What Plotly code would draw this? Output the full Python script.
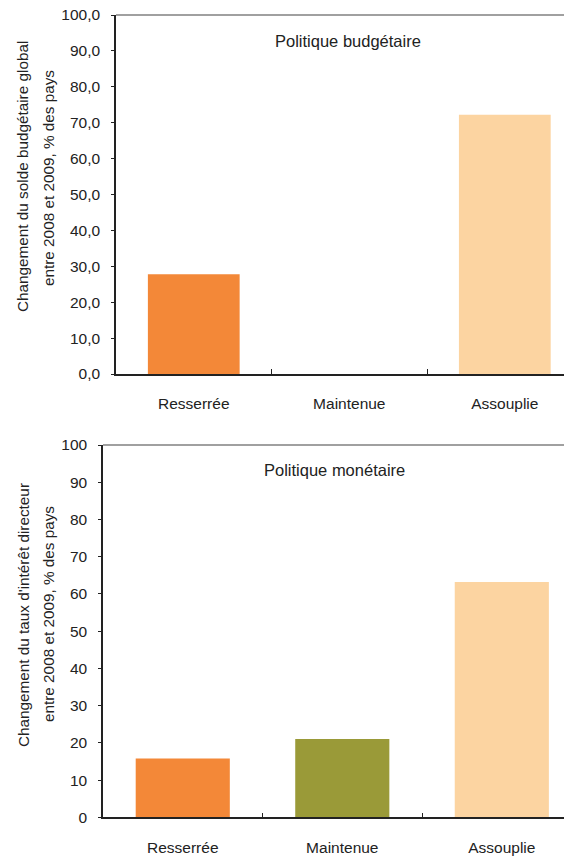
import plotly.graph_objects as go

categories = ["Resserrée", "Maintenue", "Assouplie"]
budget_values = [27.8, 0.0, 72.2]
monetary_values = [15.8, 21.0, 63.2]
bar_colors = ["#F38838", "#9A9A38", "#FCD4A1"]
budget_ticks = [0, 10, 20, 30, 40, 50, 60, 70, 80, 90, 100]
monetary_ticks = [0, 10, 20, 30, 40, 50, 60, 70, 80, 90, 100]

# page body has a default 8px margin; compensate so positions match the 572x856 window
OX, OY = 8, 8
W, H = 564, 848
FONT = "Liberation Sans, Arial, sans-serif"

def px_x(v):
    return (v - OX) / W

def px_y(v):
    return 1 - (v - OY) / H

fig = go.Figure()
fig.add_trace(go.Bar(x=categories, y=budget_values, marker=dict(color=bar_colors, line=dict(width=0)),
                     width=0.59, xaxis="x", yaxis="y", showlegend=False, hoverinfo="skip"))
fig.add_trace(go.Bar(x=categories, y=monetary_values, marker=dict(color=bar_colors, line=dict(width=0)),
                     width=0.59, xaxis="x2", yaxis="y2", showlegend=False, hoverinfo="skip"))

axis_common_x = dict(type="category", showgrid=False, zeroline=False, showline=True,
                     linecolor="#222222", linewidth=1.5, ticks="inside", tickson="boundaries",
                     ticklen=5, tickcolor="#222222", tickwidth=1,
                     tickfont=dict(family=FONT, size=15.5, color="#222222"),
                     ticklabelstandoff=15, fixedrange=True, automargin=False,
                     ticklabeloverflow="allow")
axis_common_y = dict(showgrid=False, zeroline=False, showline=True, linecolor="#222222", linewidth=1.5,
                     ticks="outside", ticklen=3, tickcolor="#222222", tickwidth=1,
                     tickfont=dict(family=FONT, size=15.5, color="#222222"),
                     ticklabelstandoff=8, fixedrange=True, automargin=False,
                     ticklabeloverflow="allow")

top1, bot1, left1 = 15, 374, 116
top2, bot2, left2 = 445, 817.3, 103
right_edge = 572

fig.update_layout(
    width=W, height=H,
    margin=dict(l=0, r=0, t=0, b=0, autoexpand=False),
    paper_bgcolor="white", plot_bgcolor="white",
    separators=", ",
    bargap=0.41,
    xaxis=dict(axis_common_x, domain=[px_x(left1), px_x(right_edge)], range=[-0.5, 2.432], anchor="y"),
    yaxis=dict(axis_common_y, domain=[px_y(bot1), px_y(top1)], range=[0, 100],
               tickvals=budget_ticks, tickformat=".1f", anchor="x"),
    xaxis2=dict(axis_common_x, domain=[px_x(left2), px_x(right_edge)], range=[-0.5, 2.44], anchor="y2"),
    yaxis2=dict(axis_common_y, domain=[px_y(bot2), px_y(top2)], range=[0, 100],
                tickvals=monetary_ticks, tickformat="d", anchor="x2"),
)

# top border lines of each plot area (paper coords so they are not clipped)
for lft, tp in [(left1, top1), (left2, top2)]:
    fig.add_shape(type="line", xref="paper", yref="paper", x0=px_x(lft), x1=px_x(right_edge),
                  y0=px_y(tp), y1=px_y(tp), line=dict(color="#808080", width=1.5), layer="above")

ann_font = dict(family=FONT, size=16.5, color="#222222")
fig.add_annotation(text="Politique budgétaire", xref="paper", yref="paper",
                   x=px_x(347.5), y=px_y(41), showarrow=False, font=ann_font,
                   xanchor="center", yanchor="middle")
fig.add_annotation(text="Politique monétaire", xref="paper", yref="paper",
                   x=px_x(334), y=px_y(470), showarrow=False, font=ann_font,
                   xanchor="center", yanchor="middle")

title_font = dict(family=FONT, size=15.3, color="#222222")
titles = [
    ("Changement du solde budgétaire global", 22, 177),
    ("entre 2008 et 2009, % des pays", 48, 178),
    ("Changement du taux d'intérêt directeur", 23, 615),
    ("entre 2008 et 2009, % des pays", 48, 614),
]
for txt, cx, cy in titles:
    fig.add_annotation(text=txt, xref="paper", yref="paper", x=px_x(cx), y=px_y(cy),
                       showarrow=False, textangle=-90, font=title_font,
                       xanchor="center", yanchor="middle")

fig.write_html("out.html")
